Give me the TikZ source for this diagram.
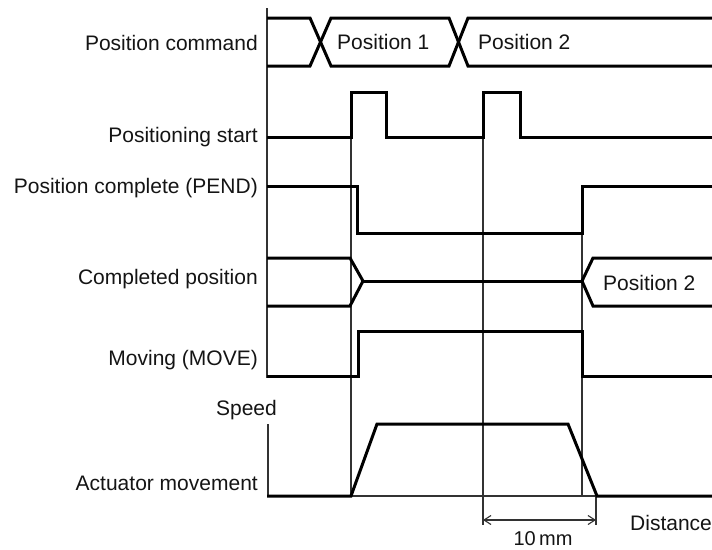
\documentclass[tikz,border=0pt]{standalone}
\usepackage{fontspec}
\setmainfont{Liberation Sans}
\usetikzlibrary{arrows.meta, positioning}
\usepackage{xcolor}
\definecolor{sigcol}{RGB}{0,0,0}
\definecolor{guidecol}{RGB}{50,50,50}
\definecolor{textcol}{RGB}{20,20,20}

\begin{document}
\begin{tikzpicture}[
    x = 1pt, y = -1pt,
    signal/.style   = {line width=3pt, color=sigcol, line join=miter},
    guide/.style    = {line width=1.1pt, color=guidecol},
    signame/.style  = {anchor=base east, inner sep=0pt, text=textcol,
                       font=\fontsize{21}{25}\selectfont},
    value/.style    = {anchor=base west, inner sep=0pt, text=textcol,
                       font=\fontsize{21}{25}\selectfont},
    dimarrow/.style = {{Straight Barb[length=7pt,width=9pt]}-{Straight Barb[length=7pt,width=9pt]},
                       line width=1.1pt, color=guidecol},
]
\useasboundingbox (0,0) rectangle (712,549);

% ── Signal names ────────────────────────────────────────────────
\node[signame] (cmd)   at (258,50)  {Position command};
\node[signame] (start) at (258,142) {Positioning start};
\node[signame] (pend)  at (258,193) {Position complete (PEND)};
\node[signame] (done)  at (258,284) {Completed position};
\node[signame] (move)  at (258,365) {Moving (MOVE)};
\node[signame] (speed) at (277,415) {Speed};
\node[signame] (act)   at (258,490) {Actuator movement};

% ── Axes ────────────────────────────────────────────────────────
\draw[guide] (267,8) -- (267,378);
\draw[guide] (268,424) -- (268,496);

% ── Guide lines at the transitions ──────────────────────────────
\draw[guide] (351,137) -- (351,496);
\draw[guide] (483,137) -- (483,525);
\draw[guide] (582,185) -- (582,496);
\draw[guide] (596,496) -- (596,525);
\draw[guide] (351,496) -- (596,496);

% ── Position command ────────────────────────────────────────────
\draw[signal] (267,18) -- (310,18) -- (331,66) -- (449,66) -- (468,18) -- (712,18);
\draw[signal] (267,66) -- (310,66) -- (331,18) -- (449,18) -- (468,66) -- (712,66);
\node[value] (pos1) at (337,49) {Position 1};
\node[value] (pos2) at (478,49) {Position 2};

% ── Positioning start ───────────────────────────────────────────
\draw[signal] (267,137) -- (351,137) -- (351,92) -- (386,92) -- (386,137)
    -- (483,137) -- (483,92) -- (520,92) -- (520,137) -- (712,137);

% ── Position complete (PEND) ────────────────────────────────────
\draw[signal] (267,186) -- (357,186) -- (357,233) -- (582,233) -- (582,186) -- (712,186);

% ── Completed position ──────────────────────────────────────────
\draw[signal] (267,258) -- (350,258) -- (363,281) -- (350,306) -- (267,306);
\draw[signal] (363,281) -- (582,281);
\draw[signal] (712,258) -- (593,258) -- (582,281) -- (593,306) -- (712,306);
\node[value] (pos2b) at (603,290) {Position 2};

% ── Moving (MOVE) ───────────────────────────────────────────────
\draw[signal] (267,376) -- (358,376) -- (358,331) -- (582,331) -- (582,376) -- (712,376);

% ── Actuator movement ───────────────────────────────────────────
\draw[signal] (267,496) -- (351,496) -- (377,424) -- (568,424) -- (597,496) -- (712,496);

% ── Dimension ───────────────────────────────────────────────────
\coordinate (d1) at (483,520);
\coordinate (d2) at (596,520);
\draw[dimarrow] (d1) -- (d2);
\node[anchor=base, inner sep=0pt, text=textcol,
      font=\fontsize{20}{24}\selectfont] (dist) at (543,545) {10\,mm};
\node[value] (axis) at (630,530) {Distance};

\end{tikzpicture}
\end{document}
